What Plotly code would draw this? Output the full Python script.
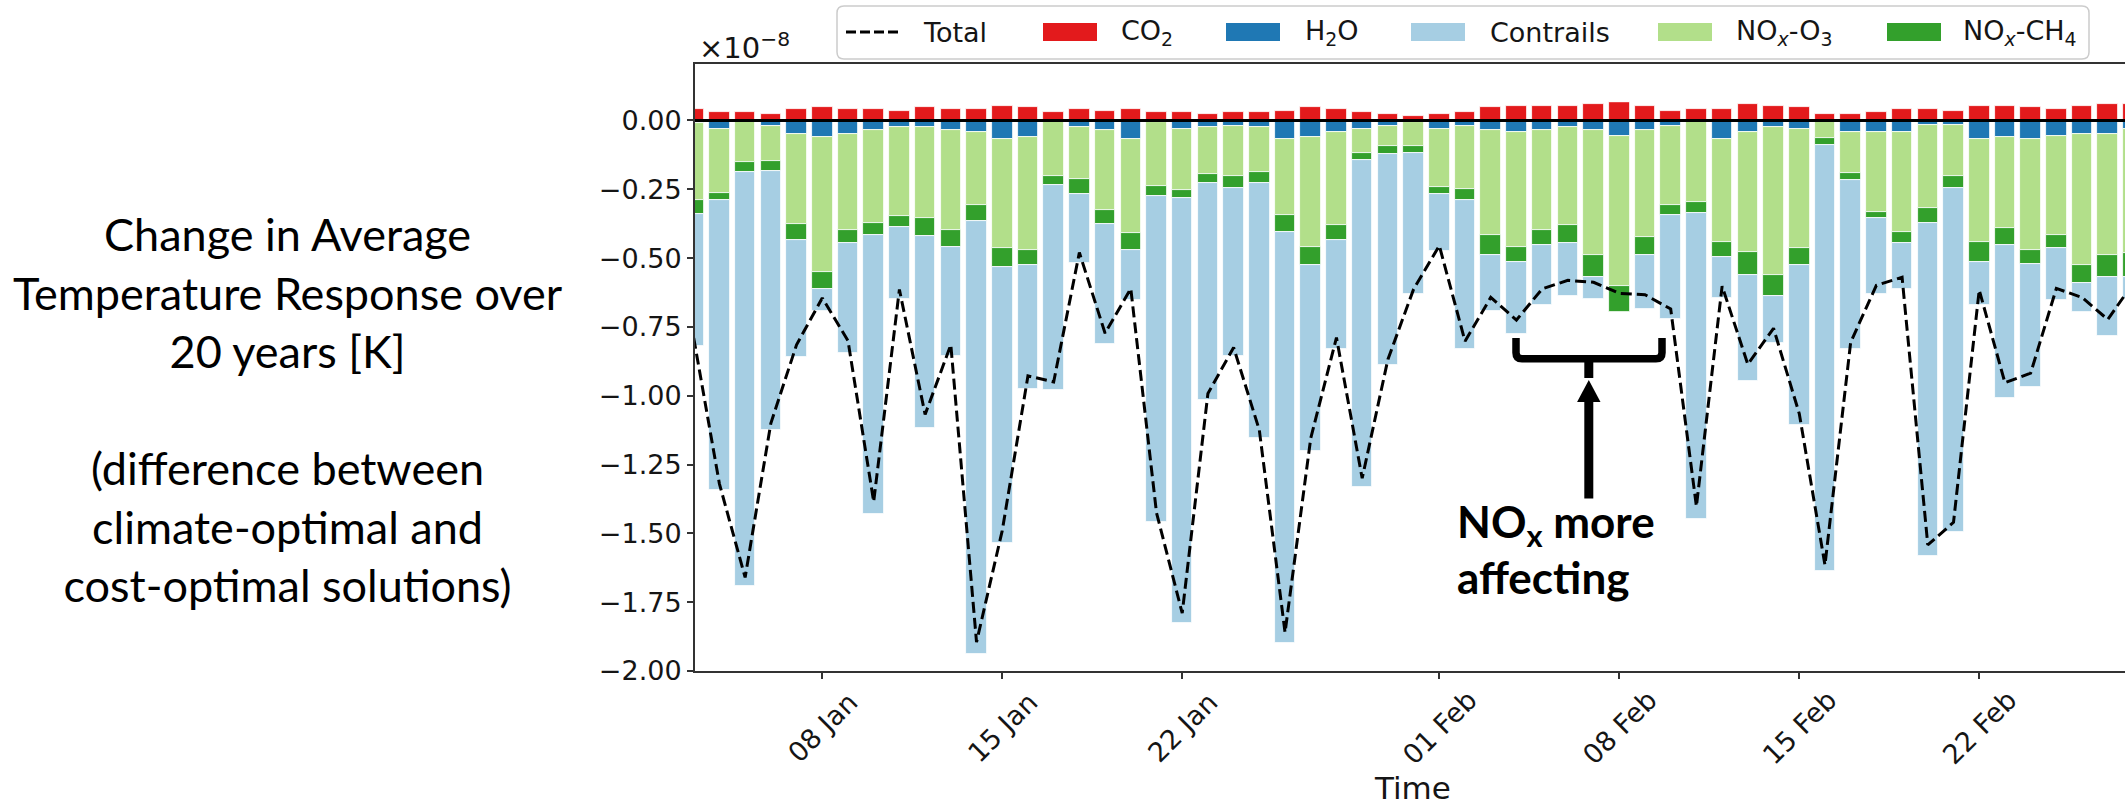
import plotly.graph_objects as go
import pandas as pd

# ---------------- data (values in units of 1e-8 K) ----------------
dates = pd.date_range("2018-01-03", "2018-02-28", freq="D")

co2 = [0.043, 0.029, 0.029, 0.022, 0.043, 0.049, 0.043, 0.043, 0.036, 0.049,
       0.043, 0.043, 0.054, 0.049, 0.029, 0.043, 0.036, 0.043, 0.029, 0.029,
       0.022, 0.029, 0.029, 0.036, 0.049, 0.043, 0.029, 0.022, 0.017, 0.022,
       0.029, 0.049, 0.054, 0.054, 0.054, 0.060, 0.067, 0.054, 0.036, 0.043,
       0.043, 0.060, 0.054, 0.049, 0.022, 0.022, 0.029, 0.043, 0.043, 0.036,
       0.054, 0.054, 0.049, 0.043, 0.054, 0.060, 0.060]
h2o = [-0.010, -0.031, -0.003, -0.019, -0.050, -0.061, -0.050, -0.036, -0.025, -0.025,
       -0.036, -0.042, -0.067, -0.061, -0.003, -0.025, -0.036, -0.067, -0.006, -0.031,
       -0.025, -0.019, -0.025, -0.067, -0.061, -0.042, -0.031, -0.019, -0.006, -0.031,
       -0.019, -0.036, -0.042, -0.036, -0.025, -0.036, -0.056, -0.036, -0.019, -0.003,
       -0.067, -0.042, -0.024, -0.031, -0.003, -0.042, -0.042, -0.042, -0.017, -0.017,
       -0.067, -0.061, -0.067, -0.056, -0.049, -0.049, -0.031]
nox_o3 = [-0.280, -0.234, -0.148, -0.128, -0.328, -0.489, -0.348, -0.338, -0.323, -0.331,
          -0.362, -0.264, -0.398, -0.409, -0.198, -0.189, -0.288, -0.342, -0.232, -0.220,
          -0.171, -0.184, -0.164, -0.276, -0.398, -0.337, -0.086, -0.074, -0.088, -0.209,
          -0.231, -0.380, -0.418, -0.362, -0.355, -0.454, -0.546, -0.386, -0.287, -0.292,
          -0.373, -0.436, -0.539, -0.434, -0.061, -0.148, -0.290, -0.362, -0.302, -0.186,
          -0.374, -0.331, -0.404, -0.360, -0.477, -0.441, -0.452]
nox_ch4 = [-0.049, -0.024, -0.036, -0.036, -0.056, -0.061, -0.047, -0.042, -0.038, -0.065,
           -0.061, -0.061, -0.067, -0.056, -0.032, -0.054, -0.054, -0.061, -0.036, -0.031,
           -0.031, -0.042, -0.038, -0.061, -0.067, -0.056, -0.025, -0.029, -0.024, -0.029,
           -0.038, -0.074, -0.054, -0.054, -0.067, -0.079, -0.095, -0.068, -0.036, -0.042,
           -0.056, -0.085, -0.074, -0.061, -0.025, -0.025, -0.024, -0.043, -0.054, -0.042,
           -0.072, -0.060, -0.049, -0.049, -0.065, -0.079, -0.086]
contrails = [-0.480, -1.055, -1.503, -0.941, -0.427, -0.081, -0.399, -1.013, -0.263, -0.697,
             -0.397, -1.570, -1.002, -0.451, -0.745, -0.251, -0.433, -0.182, -1.186, -1.545,
             -0.788, -0.610, -0.928, -1.496, -0.676, -0.397, -1.190, -0.768, -0.512, -0.207,
             -0.543, -0.202, -0.263, -0.219, -0.189, -0.079, 0.000, -0.195, -0.379, -1.111,
             -0.148, -0.383, -0.170, -0.579, -1.549, -0.617, -0.274, -0.164, -1.209, -1.251,
             -0.159, -0.555, -0.447, -0.189, -0.104, -0.213, -0.081]
total = [-0.790, -1.320, -1.660, -1.100, -0.815, -0.645, -0.800, -1.385, -0.614, -1.068,
         -0.815, -1.895, -1.490, -0.928, -0.950, -0.480, -0.773, -0.611, -1.425, -1.790,
         -0.992, -0.825, -1.125, -1.860, -1.154, -0.789, -1.300, -0.868, -0.613, -0.455,
         -0.802, -0.643, -0.725, -0.612, -0.581, -0.588, -0.628, -0.633, -0.685, -1.402,
         -0.602, -0.886, -0.755, -1.065, -1.615, -0.806, -0.599, -0.570, -1.542, -1.460,
         -0.616, -0.953, -0.918, -0.610, -0.643, -0.723, -0.590]

tick_dates = ["2018-01-08", "2018-01-15", "2018-01-22", "2018-02-01",
              "2018-02-08", "2018-02-15", "2018-02-22"]
tick_labels = ["08 Jan", "15 Jan", "22 Jan", "01 Feb", "08 Feb", "15 Feb", "22 Feb"]
y_ticks = [0.0, -0.25, -0.5, -0.75, -1.0, -1.25, -1.5, -1.75, -2.0]

C_CO2, C_H2O, C_CON, C_O3, C_CH4 = "#e31a1c", "#1f78b4", "#a6cee3", "#b2df8a", "#33a02c"

# ---------------- geometry helpers (pixel -> paper) ----------------
W, H = 2125, 809
L, T, R, B = 695, 64, 0, 138
PW, PH = W - L - R, H - T - B


def px(x):
    return (x - L) / PW


def py(y):
    return (T + PH - y) / PH


DAY_MS = 86400000
bar_w = 0.8 * DAY_MS
FS = 27

fig = go.Figure()
for vals, col, name in [(co2, C_CO2, "CO2"), (h2o, C_H2O, "H2O"), (nox_o3, C_O3, "NOx-O3"),
                        (nox_ch4, C_CH4, "NOx-CH4"), (contrails, C_CON, "Contrails")]:
    fig.add_trace(go.Bar(x=dates, y=vals, name=name, width=bar_w,
                         marker=dict(color=col, line=dict(color="white", width=0.8)),
                         showlegend=False))
fig.add_trace(go.Scatter(x=dates, y=total, mode="lines", name="Total",
                         line=dict(color="black", width=3, dash="11px,5px"),
                         showlegend=False))

TXT = "#151515"
fig.update_layout(
    width=W, height=H, barmode="relative", bargap=0,
    margin=dict(l=L, r=R, t=T, b=B, pad=0),
    paper_bgcolor="white", plot_bgcolor="white",
    font=dict(family="DejaVu Sans", size=FS, color=TXT),
    xaxis=dict(type="date", range=["2018-01-03 01:12", "2018-02-27 16:05"],
               tickvals=tick_dates, showticklabels=False, ticks="outside", ticklen=6,
               tickwidth=1.5, tickcolor="#333", showline=True, linecolor="#333",
               linewidth=2, mirror=True, showgrid=False, zeroline=False),
    yaxis=dict(range=[-2.0, 0.205], tickvals=y_ticks,
               ticktext=[("%.2f" % v).replace("-", "\u2212") if v != 0 else "0.00" for v in y_ticks],
               ticks="outside", ticklen=6, tickwidth=1.5, tickcolor="#333",
               showline=True, linecolor="#333", linewidth=2, showgrid=False, zeroline=False,
               tickfont=dict(family="DejaVu Sans", size=FS, color=TXT)),
)

shapes = []
# zero reference line
shapes.append(dict(type="line", xref="paper", yref="y", x0=0, x1=1, y0=0, y1=0,
                   line=dict(color="black", width=3), layer="above"))


def poly(points, **kw):
    d = "M " + " L ".join("%.5f,%.5f" % (px(a), py(b)) for a, b in points) + " Z"
    return dict(type="path", xref="paper", yref="paper", path=d, **kw)


# ---- custom legend (matplotlib style) ----
bx0, bx1, by0, by1, r = 837, 2089, 6, 59, 7
pth = ("M {a},{b} L {c},{b} Q {e},{b} {e},{f} L {e},{g} Q {e},{h} {c},{h} "
       "L {a},{h} Q {i},{h} {i},{g} L {i},{f} Q {i},{b} {a},{b} Z").format(
    a=px(bx0 + r), b=py(by0), c=px(bx1 - r), e=px(bx1), f=py(by0 + r),
    g=py(by1 - r), h=py(by1), i=px(bx0))
shapes.append(dict(type="path", xref="paper", yref="paper", path=pth,
                   line=dict(color="#cccccc", width=1.5), fillcolor="white", layer="above"))
ly = 32
shapes.append(dict(type="line", xref="paper", yref="paper", x0=px(846), x1=px(900),
                   y0=py(ly), y1=py(ly), line=dict(color="black", width=3, dash="10px,4px"),
                   layer="above"))
leg_items = [(1043, C_CO2, 1119, "CO<sub>2</sub>"), (1226, C_H2O, 1303, "H<sub>2</sub>O"),
             (1411, C_CON, 1488, "Contrails"), (1658, C_O3, 1734, "NO<sub><i>x</i></sub>-O<sub>3</sub>"),
             (1887, C_CH4, 1961, "NO<sub><i>x</i></sub>-CH<sub>4</sub>")]
annotations = [dict(xref="paper", yref="paper", x=px(921), y=py(ly), text="Total",
                    showarrow=False, xanchor="left", yanchor="middle",
                    font=dict(family="DejaVu Sans", size=FS, color=TXT))]
for x0, col, tx, label in leg_items:
    shapes.append(dict(type="rect", xref="paper", yref="paper", x0=px(x0), x1=px(x0 + 54),
                       y0=py(ly - 9), y1=py(ly + 9), fillcolor=col, line=dict(width=0),
                       layer="above"))
    annotations.append(dict(xref="paper", yref="paper", x=px(tx), y=py(ly), text=label,
                            showarrow=False, xanchor="left", yanchor="middle",
                            font=dict(family="DejaVu Sans", size=FS, color=TXT)))

# ---- brace + arrow annotation ----
bl, br_, btop, bbar = 1516, 1662, 338, 358.7
brace = ("M {x0},{y0} L {x0},{y1} Q {x0},{yb} {x0r},{yb} L {x1r},{yb} Q {x1},{yb} {x1},{y1} "
         "L {x1},{y0}").format(x0=px(bl), y0=py(btop), y1=py(bbar - 6), yb=py(bbar),
                               x0r=px(bl + 6), x1r=px(br_ - 6), x1=px(br_))
shapes.append(dict(type="path", xref="paper", yref="paper", path=brace,
                   line=dict(color="black", width=7.5), layer="above"))
shapes.append(poly([(1584.3, 361), (1593.3, 361), (1593.3, 378), (1584.3, 378)],
                   fillcolor="black", line=dict(width=0), layer="above"))
shapes.append(poly([(1588.8, 380), (1600.5, 402), (1577.1, 402)],
                   fillcolor="black", line=dict(width=0), layer="above"))
shapes.append(poly([(1584.3, 401), (1593.3, 401), (1593.3, 498.5), (1584.3, 498.5)],
                   fillcolor="black", line=dict(width=0), layer="above"))

annotations.append(dict(xref="paper", yref="paper", x=px(1455), y=py(524),
                        text="<b>NO<sub>x</sub> more</b>", showarrow=False,
                        xanchor="left", yanchor="middle",
                        font=dict(family="Lato", size=44, color="black")))
annotations.append(dict(xref="paper", yref="paper", x=px(1455), y=py(577),
                        text="<b>affecting</b>", showarrow=False,
                        xanchor="left", yanchor="middle",
                        font=dict(family="Lato", size=44, color="black")))

# ---- left description ----
annotations.append(dict(xref="paper", yref="paper", x=px(288), y=py(409),
                        text=("Change in Average<br>Temperature Response over<br>20 years [K]"
                              "<br> <br>(difference between<br>climate-optimal and<br>"
                              "cost-optimal solutions)"),
                        showarrow=False, xanchor="center", yanchor="middle", align="center",
                        font=dict(family="Lato", size=45, color="black")))

# ---- offset text, x tick labels, axis title ----
annotations.append(dict(xref="paper", yref="paper", x=px(697), y=py(46),
                        text="\u00d710<sup>\u22128</sup>", showarrow=False,
                        xanchor="left", yanchor="middle",
                        font=dict(family="DejaVu Sans", size=29, color=TXT)))
for d, lab in zip(tick_dates, tick_labels):
    annotations.append(dict(xref="x", yref="paper", x=d, y=py(727), text=lab,
                            showarrow=False, textangle=-45, xanchor="center",
                            yanchor="middle",
                            font=dict(family="DejaVu Sans", size=FS, color=TXT)))
annotations.append(dict(xref="paper", yref="paper", x=px(1412), y=py(808), text="Time",
                        showarrow=False, xanchor="center", yanchor="bottom",
                        font=dict(family="DejaVu Sans", size=31, color=TXT)))

fig.update_layout(shapes=shapes, annotations=annotations)
fig.write_html("out.html")
